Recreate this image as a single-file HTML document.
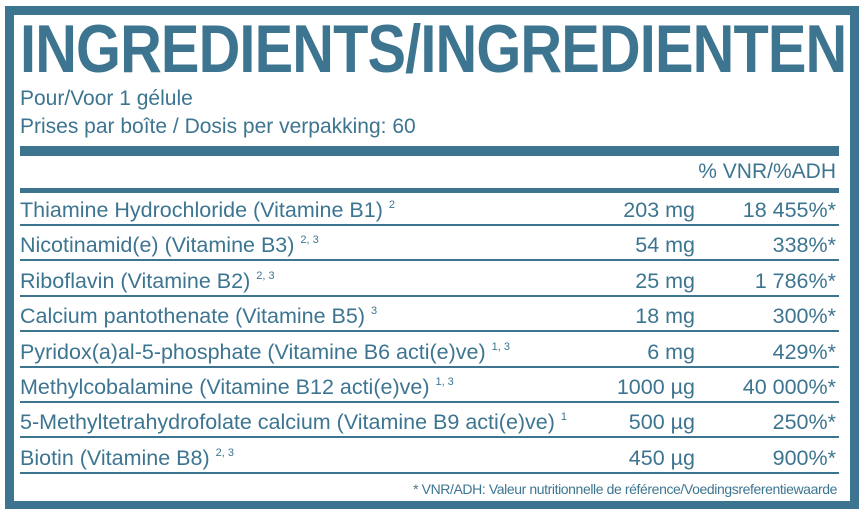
<!DOCTYPE html>
<html><head><meta charset="utf-8"><style>
html,body{margin:0;padding:0;background:#fff;}
body{width:863px;height:515px;position:relative;overflow:hidden;font-family:"Liberation Sans",sans-serif;color:#3d7591;}
.abs{position:absolute;}
.bar{position:absolute;background:#3d7591;}
.row{position:absolute;left:20px;width:819px;height:30px;font-size:21.5px;line-height:30px;}
.row .n{position:absolute;left:0;white-space:nowrap;}
.row .a{position:absolute;right:144px;white-space:nowrap;}
.row .p{position:absolute;right:3px;white-space:nowrap;}
sup{font-size:11px;vertical-align:9px;line-height:0;}
</style></head><body>
<div class="bar" style="left:5px;top:6px;width:854px;height:9px"></div>
<div class="bar" style="left:5px;top:6px;width:9px;height:503px"></div>
<div class="bar" style="left:850px;top:6px;width:9px;height:503px"></div>
<div class="bar" style="left:5px;top:501px;width:854px;height:8px"></div>

<div class="abs" id="title" style="left:20px;top:14px;font-size:68px;font-weight:bold;line-height:70px;white-space:nowrap;transform-origin:0 0;letter-spacing:-1px">INGREDIENTS/INGREDIENTEN</div>
<div class="abs" style="left:20px;top:86px;font-size:21px;line-height:26px">Pour/Voor 1 gélule</div>
<div class="abs" style="left:20px;top:114px;font-size:21px;line-height:26px">Prises par boîte / Dosis per verpakking: 60</div>

<div class="bar" style="left:20px;top:146px;width:819px;height:10px"></div>
<div class="abs" style="right:27px;top:158px;font-size:21px;line-height:28px">% VNR/%ADH</div>
<div class="bar" style="left:20px;top:188px;width:819px;height:5px"></div>

<div id="rows"></div>

<div class="abs" style="right:26px;top:480px;font-size:14px;line-height:18px;letter-spacing:-0.4px">* VNR/ADH: Valeur nutritionnelle de référence/Voedingsreferentiewaarde</div>

<script>
const names=["Thiamine Hydrochloride (Vitamine B1)","Nicotinamid(e) (Vitamine B3)","Riboflavin (Vitamine B2)","Calcium pantothenate (Vitamine B5)","Pyridox(a)al-5-phosphate (Vitamine B6 acti(e)ve)","Methylcobalamine (Vitamine B12 acti(e)ve)","5-Methyltetrahydrofolate calcium (Vitamine B9 acti(e)ve)","Biotin (Vitamine B8)"];
const notes=["2","2, 3","2, 3","3","1, 3","1, 3","1","2, 3"];
const amounts=["203 mg","54 mg","25 mg","18 mg","6 mg","1000 µg","500 µg","450 µg"];
const vnr=["18 455%*","338%*","1 786%*","300%*","429%*","40 000%*","250%*","900%*"];
const host=document.getElementById('rows');
for(let i=0;i<names.length;i++){
  const top=195+i*35.4;
  const r=document.createElement('div');
  r.className='row';r.style.top=top+'px';
  
  
  r.innerHTML='<span class="n">'+names[i]+' <sup>'+notes[i]+'</sup></span><span class="a">'+amounts[i]+'</span><span class="p">'+vnr[i]+'</span>';
  host.appendChild(r);
  const d=document.createElement('div');
  d.className='bar';d.style.left='20px';d.style.width='819px';d.style.height='2px';
  d.style.top=(top+29)+'px';
  
  
  host.appendChild(d);
}
const t=document.getElementById('title');
t.style.transform='scaleX('+(826/t.scrollWidth)+')';
</script>
</body></html>
